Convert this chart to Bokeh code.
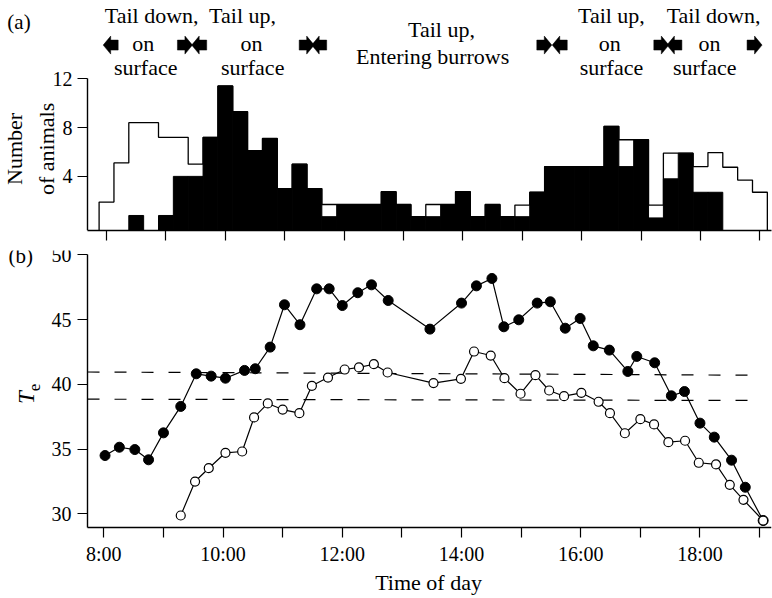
import math
from bokeh.plotting import figure
from bokeh.layouts import column
from bokeh.models import FixedTicker, Range1d, ColumnDataSource
from bokeh.embed import file_html
from bokeh.resources import INLINE
from bokeh.core.properties import value

FONT = "Liberation Serif"

# ---------------- (a) histogram data: 15-min bins, centre times in hours ----------------
bin_centres = [8.0, 8.25, 8.5, 8.75, 9.0, 9.25, 9.5, 9.75, 10.0, 10.25, 10.5, 10.75,
               11.0, 11.25, 11.5, 11.75, 12.0, 12.25, 12.5, 12.75, 13.0, 13.25, 13.5,
               13.75, 14.0, 14.25, 14.5, 14.75, 15.0, 15.25, 15.5, 15.75, 16.0, 16.25,
               16.5, 16.75, 17.0, 17.25, 17.5, 17.75, 18.0, 18.25, 18.5, 18.75, 19.0]
bin_width = 0.25
open_counts = [1.9, 5.1, 8.4, 8.4, 7.2, 7.2, 5.0, 7.2, 11.4, 9.3, 6.1, 7.1, 3.0, 5.0, 3.0,
               1.7, 1.7, 1.7, 1.7, 2.75, 1.7, 0.7, 1.7, 1.7, 2.75, 0.7, 1.7, 0.7, 1.65,
               2.7, 4.8, 4.8, 4.8, 4.8, 8.1, 7.0, 7.0, 1.65, 5.9, 5.9, 4.8, 5.95, 4.75,
               3.7, 2.7]
black_counts = [0, 0, 0.8, 0, 0.8, 4.0, 4.0, 7.2, 11.4, 9.3, 6.1, 7.1, 3.0, 5.0, 3.0,
                0.7, 1.7, 1.7, 1.7, 2.75, 1.7, 0.7, 0.7, 1.7, 2.75, 0.7, 1.7, 0.7, 0.7,
                2.7, 4.8, 4.8, 4.8, 4.8, 8.1, 4.8, 7.0, 0.6, 3.8, 5.9, 2.7, 2.7, 0, 0, 0]
count_ticks = [4, 8, 12]
hour_ticks = [8, 9, 10, 11, 12, 13, 14, 15, 16, 17, 18, 19]

# behaviour annotations
phase_x = [8.76, 8.62, 8.66, 10.29, 10.44, 10.46, 13.64, 13.49, 16.5, 16.47, 16.5, 18.22, 18.15, 18.07]
phase_y = [17.2, 14.85, 12.95, 17.2, 14.85, 12.95, 16.0, 13.8, 17.2, 14.85, 12.95, 17.2, 14.85, 12.95]
phase_text = ["Tail down,", "on", "surface", "Tail up,", "on", "surface", "Tail up,",
              "Entering burrows", "Tail up,", "on", "surface", "Tail down,", "on", "surface"]
arrow_x = [8.07, 9.32, 9.56, 11.37, 11.58, 15.37, 15.63, 17.34, 17.56, 18.91]
arrow_dir = [-1, 1, -1, 1, -1, 1, -1, 1, -1, 1]
arrow_y = 14.75

# ---------------- (b) operative temperature data ----------------
sun_t = [8.02, 8.26, 8.52, 8.75, 9.0, 9.29, 9.55, 9.80, 10.04, 10.36, 10.54, 10.79, 11.03,
         11.29, 11.57, 11.78, 12.0, 12.26, 12.49, 12.77, 13.47, 14.0, 14.25, 14.51, 14.71,
         14.96, 15.27, 15.49, 15.74, 15.99, 16.21, 16.48, 16.79, 16.94, 17.24, 17.52,
         17.74, 18.0, 18.24, 18.53, 18.76, 19.06]
sun_te = [34.5, 35.14, 34.96, 34.17, 36.25, 38.29, 40.81, 40.63, 40.47, 41.07, 41.2, 42.87,
          46.14, 44.6, 47.37, 47.37, 46.08, 47.07, 47.68, 46.47, 44.26, 46.27, 47.6, 48.17,
          44.44, 44.98, 46.27, 46.37, 44.33, 45.08, 42.97, 42.64, 40.99, 42.15, 41.66,
          39.11, 39.44, 37.0, 35.92, 34.14, 32.05, 29.48]
shade_t = [9.29, 9.53, 9.76, 10.04, 10.32, 10.52, 10.75, 11.0, 11.28, 11.49, 11.76, 12.04,
           12.28, 12.53, 12.76, 13.53, 13.99, 14.21, 14.49, 14.72, 14.99, 15.24, 15.47,
           15.72, 16.01, 16.3, 16.49, 16.74, 17.0, 17.23, 17.47, 17.75, 17.98, 18.27, 18.5,
           18.73, 19.06]
shade_te = [29.87, 32.49, 33.52, 34.71, 34.81, 37.44, 38.52, 38.05, 37.77, 39.88, 40.52,
            41.14, 41.3, 41.55, 40.91, 40.09, 40.42, 42.53, 42.22, 40.47, 39.27, 40.70,
            39.52, 39.08, 39.34, 38.65, 37.77, 36.22, 37.31, 36.9, 35.53, 35.64, 33.94,
            33.81, 32.24, 31.08, 29.48]
limit_t0 = [7.726, 7.726]
limit_t1 = [18.97, 18.97]
limit_te0 = [40.95, 38.85]
limit_te1 = [40.7, 38.75]
te_ticks = [30, 35, 40, 45, 50]
hour_labels = {8: "8:00", 9: "", 10: "10:00", 11: "", 12: "12:00", 13: "", 14: "14:00",
               15: "", 16: "16:00", 17: "", 18: "18:00", 19: ""}


def style_axes(p):
    for ax in p.axis:
        ax.axis_line_width = 1.4
        ax.major_tick_line_width = 1.2
        ax.major_tick_out = 10
        ax.major_tick_in = 0
        ax.minor_tick_line_color = None
        ax.major_label_text_font = FONT
        ax.major_label_text_font_size = "20px"
        ax.major_label_text_color = "black"
    p.grid.visible = False
    p.outline_line_color = None


def put_text(p, x, y, text, size="21px", style="normal", angle=0.0, align="center"):
    p.text(x=[x], y=[y], text=[text], text_font=value(FONT), text_font_size=size,
           text_font_style=style, text_align=align, text_baseline="middle",
           text_color="black", angle=angle)


# ---------------- top panel ----------------
Y0 = -0.43
X1_AXIS = 7.68
p1 = figure(width=772, height=242, x_range=Range1d(6.215, 19.195), y_range=Range1d(Y0, 18.4),
            output_backend="svg", toolbar_location=None, min_border_left=0,
            min_border_right=1, min_border_top=0, min_border_bottom=12)
style_axes(p1)
p1.xaxis.ticker = FixedTicker(ticks=hour_ticks)
p1.xaxis.major_label_overrides = {h: "" for h in hour_ticks}
p1.xaxis.major_label_text_font_size = "0px"
p1.xaxis.major_label_standoff = 0
p1.xaxis.bounds = (X1_AXIS, 19.195)
p1.yaxis.ticker = FixedTicker(ticks=count_ticks)
p1.yaxis.bounds = (Y0, 12)
p1.yaxis.fixed_location = X1_AXIS
p1.yaxis.major_label_standoff = 5

# open histogram outline (step)
edges = [c - bin_width / 2 for c in bin_centres] + [bin_centres[-1] + bin_width / 2]
ox, oy = [edges[0]], [Y0]
for k, v in enumerate(open_counts):
    ox += [edges[k], edges[k + 1]]
    oy += [v, v]
ox.append(edges[-1])
oy.append(Y0)
p1.line(ox, oy, line_color="black", line_width=1.3)

# black histogram bars
bsrc = ColumnDataSource(dict(
    left=[c - bin_width / 2 for c, v in zip(bin_centres, black_counts) if v > 0],
    right=[c + bin_width / 2 for c, v in zip(bin_centres, black_counts) if v > 0],
    top=[v for v in black_counts if v > 0],
))
p1.quad(left="left", right="right", top="top", bottom=Y0, source=bsrc,
        fill_color="black", line_color="black", line_width=1)

p1.text(x=phase_x, y=phase_y, text=phase_text, text_font=value(FONT),
        text_font_size="22px", text_align="center", text_baseline="middle",
        text_color="black")

# block arrows
SX = 1 / 59.4          # hours per pixel
SY = (18.4 - Y0) / 230  # counts per pixel
shape = [(-7.5, -5), (0, -5), (0, -9), (7.5, 0), (0, 9), (0, 5), (-7.5, 5)]
axs, ays = [], []
for xc, d in zip(arrow_x, arrow_dir):
    axs.append([xc + d * px * SX for px, _ in shape])
    ays.append([arrow_y + py * SY for _, py in shape])
p1.patches(axs, ays, fill_color="black", line_color="black", line_width=0.5)

put_text(p1, 6.33, 16.6, "(a)", size="21px", align="left")
put_text(p1, 6.45, 6.25, "Number", size="22px", angle=math.pi / 2)
put_text(p1, 6.99, 6.25, "of animals", size="22px", angle=math.pi / 2)

# ---------------- bottom panel ----------------
X2_AXIS = 7.726
Y2_AXIS = 28.94
p2 = figure(width=772, height=356, x_range=Range1d(6.2663, 19.2), y_range=Range1d(23.46, 50.33),
            output_backend="svg", toolbar_location=None, min_border_left=0,
            min_border_right=1, min_border_top=8, min_border_bottom=0)
style_axes(p2)
p2.xaxis.ticker = FixedTicker(ticks=hour_ticks)
p2.xaxis.major_label_overrides = hour_labels
p2.xaxis.major_label_standoff = 5
p2.xaxis.bounds = (X2_AXIS, 19.2)
p2.xaxis.fixed_location = Y2_AXIS
p2.yaxis.ticker = FixedTicker(ticks=te_ticks)
p2.yaxis.bounds = (Y2_AXIS, 50)
p2.yaxis.fixed_location = X2_AXIS
p2.yaxis.major_label_standoff = 6

p2.segment(x0=limit_t0, y0=limit_te0, x1=limit_t1, y1=limit_te1, line_color="black",
           line_width=1.2, line_dash="12 15")
p2.line(sun_t, sun_te, line_color="black", line_width=1.2)
p2.scatter(sun_t, sun_te, size=10, fill_color="black", line_color="black")
p2.line(shade_t, shade_te, line_color="black", line_width=1.2)
p2.scatter(shade_t, shade_te, size=9, fill_color="white", line_color="black", line_width=1.2)

put_text(p2, 6.40, 49.87, "(b)", size="21px", align="left")
put_text(p2, 6.70, 38.98, "T", size="23px", style="italic", angle=math.pi / 2)
put_text(p2, 6.84, 39.75, "e", size="17px", angle=math.pi / 2)
put_text(p2, 13.447, 24.70, "Time of day", size="22px")

layout = column(p1, p2, spacing=0)
open("out.html", "w").write(file_html(layout, INLINE))
